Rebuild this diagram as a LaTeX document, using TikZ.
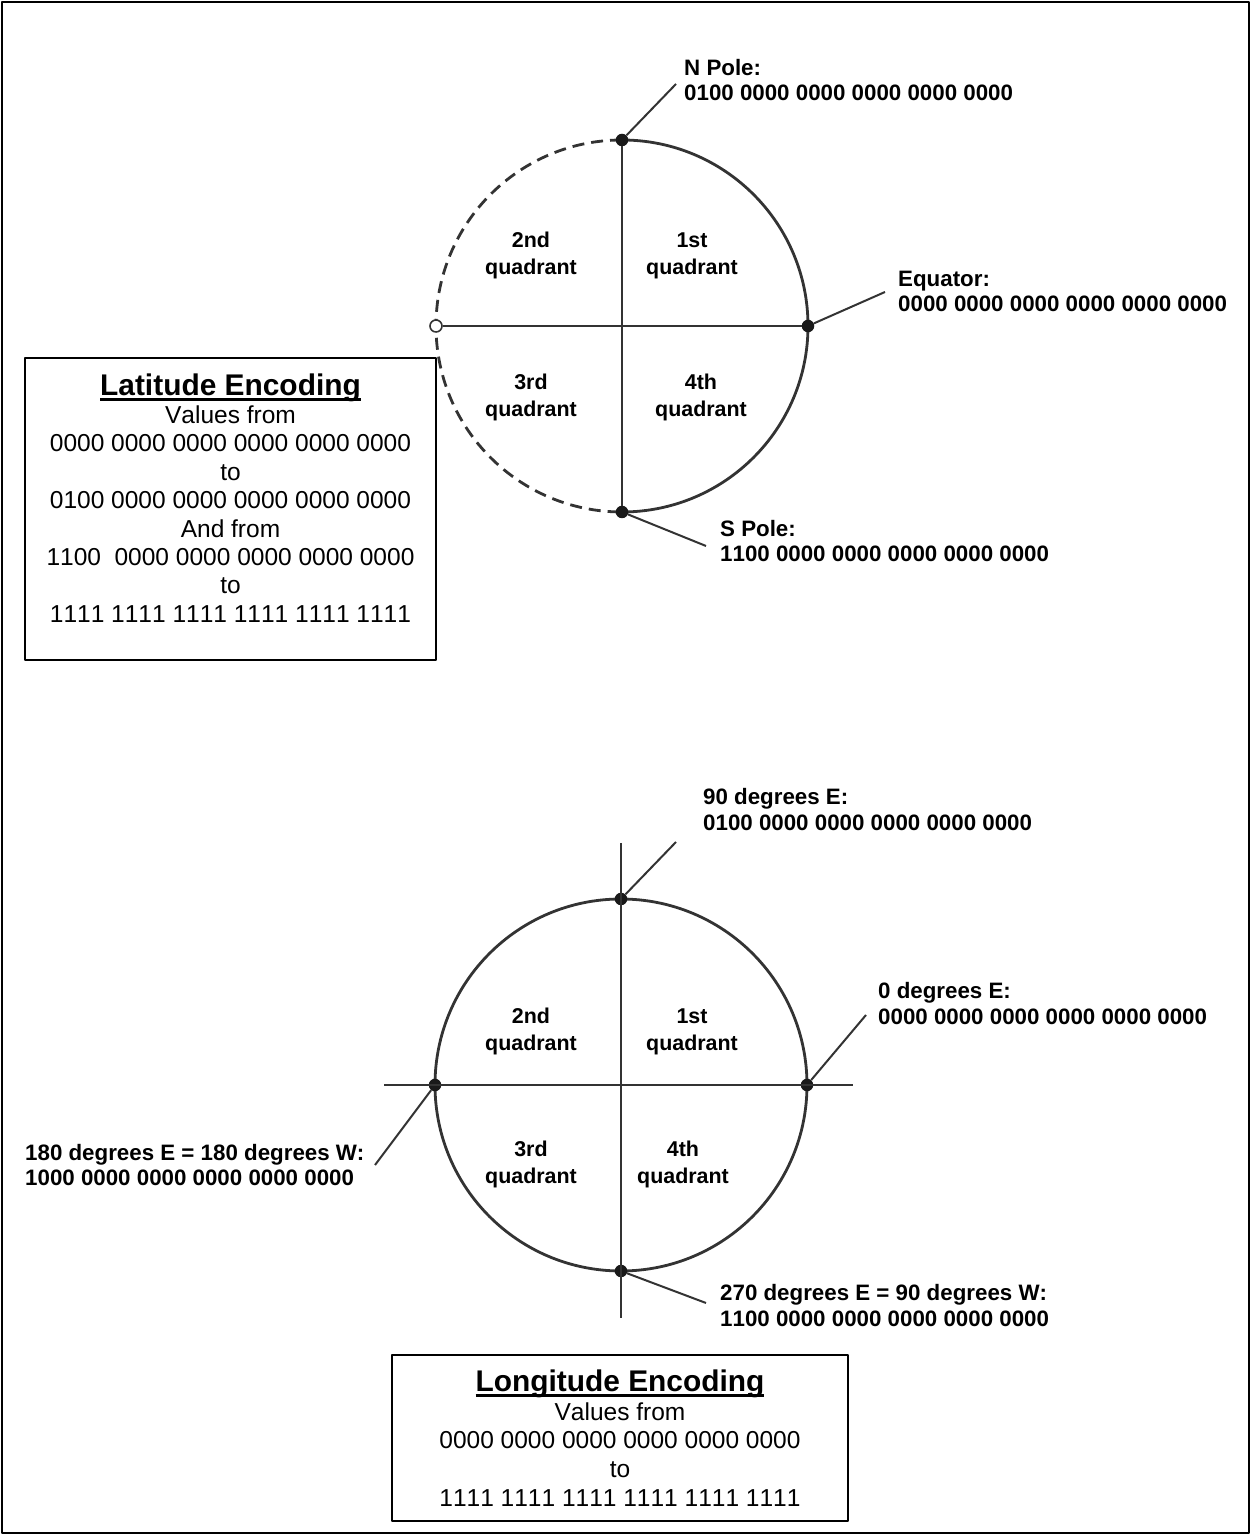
\documentclass[tikz,border=0pt]{standalone}
\usepackage{fontspec}
\setmainfont[Kerning=Off]{Liberation Sans}
\usetikzlibrary{positioning}
\tikzset{
  ptdot/.style={circle,fill=black!90,inner sep=0pt,minimum size=12.5bp},
  opendot/.style={circle,draw=black!80,fill=white,line width=1.6bp,inner sep=0pt,minimum size=12bp},
  rim/.style={line width=2.8bp,black!80},
  axis/.style={line width=2.8bp,black!80},
  leader/.style={line width=2bp,black!80},
  lbl/.style={inner sep=0pt,anchor=west,align=left,font=\bfseries\fontsize{22.4}{25.5}\selectfont},
  quad/.style={inner sep=0pt,align=center,font=\bfseries\fontsize{21.5}{27}\selectfont},
  encbox/.style={draw,line width=1.4bp,inner sep=0pt},
  enctext/.style={inner sep=0pt,align=center,font=\fontsize{24.6}{28.5}\selectfont},
}
\newcommand{\enctitle}[1]{{\fontsize{30}{33}\selectfont\bfseries\setbox0=\hbox{#1}\copy0\llap{\rule[-5.5pt]{\wd0}{2.8pt}}}}
\begin{document}
\begin{tikzpicture}[>=latex,line join=bevel,]
\useasboundingbox (0bp,0bp) rectangle (1251bp,1535bp);
\draw [line width=1.5bp] (2bp,2bp) rectangle (1249bp,1533bp);
%% latitude
\coordinate (lat_c) at (622bp,1209bp);
\draw [rim] (lat_c) ++(90:186bp) arc (90:-90:186bp);
\draw [rim,dash pattern=on 12bp off 7bp] (lat_c) ++(90:186bp) arc (90:270:186bp);
  \node (lat_n) at (622bp,1395bp) [ptdot] {};
  \node (lat_s) at (622bp,1023bp) [ptdot] {};
  \node (lat_e) at (808bp,1209bp) [ptdot] {};
  \node (lat_w) at (436bp,1209bp) [opendot] {};
  \draw [axis] (lat_n) -- (lat_s);
  \draw [axis] (lat_w) -- (lat_e);
  \coordinate (lat_n_tip) at (676bp,1451bp);
  \coordinate (lat_e_tip) at (885bp,1243bp);
  \coordinate (lat_s_tip) at (706bp,989bp);
  \draw [leader] (lat_n) -- (lat_n_tip);
  \draw [leader] (lat_e) -- (lat_e_tip);
  \draw [leader] (lat_s) -- (lat_s_tip);
  \node (lat_n_lbl) at (684bp,1455bp) [lbl] {N Pole:\\0100 0000 0000 0000 0000 0000};
  \node (lat_e_lbl) at (898bp,1243.5bp) [lbl] {Equator:\\0000 0000 0000 0000 0000 0000};
  \node (lat_s_lbl) at (720bp,994bp) [lbl] {S Pole:\\1100 0000 0000 0000 0000 0000};
  \node (lat_q1) at (692bp,1279.5bp) [quad] {1st\\quadrant};
  \node (lat_q2) at (531bp,1279.5bp) [quad] {2nd\\quadrant};
  \node (lat_q3) at (531bp,1137.5bp) [quad] {3rd\\quadrant};
  \node (lat_q4) at (701bp,1137.5bp) [quad] {4th\\quadrant};
  \node (lat_box) at (230.5bp,1026bp) [encbox,minimum width=411bp,minimum height=302bp] {};
  \node (lat_txt) [enctext,below=16bp of lat_box.north] {\enctitle{Latitude Encoding}\\Values from\\0000 0000 0000 0000 0000 0000\\to\\0100 0000 0000 0000 0000 0000\\And from\\1100~ 0000 0000 0000 0000 0000\\to\\1111 1111 1111 1111 1111 1111};
%% longitude
\coordinate (lon_c) at (621bp,450bp);
\draw [rim] (lon_c) circle (186bp);
  \node (lon_n) at (621bp,636bp) [ptdot] {};
  \node (lon_s) at (621bp,264bp) [ptdot] {};
  \node (lon_e) at (807bp,450bp) [ptdot] {};
  \node (lon_w) at (435bp,450bp) [ptdot] {};
  \coordinate (lon_top) at (621bp,692bp);
  \coordinate (lon_bot) at (621bp,217bp);
  \coordinate (lon_lft) at (384bp,450bp);
  \coordinate (lon_rgt) at (853bp,450bp);
  \draw [axis] (lon_top) -- (lon_bot);
  \draw [axis] (lon_lft) -- (lon_rgt);
  \coordinate (lon_n_tip) at (676bp,693bp);
  \coordinate (lon_e_tip) at (866bp,520bp);
  \coordinate (lon_w_tip) at (375bp,370bp);
  \coordinate (lon_s_tip) at (706bp,232bp);
  \draw [leader] (lon_n) -- (lon_n_tip);
  \draw [leader] (lon_e) -- (lon_e_tip);
  \draw [leader] (lon_w) -- (lon_w_tip);
  \draw [leader] (lon_s) -- (lon_s_tip);
  \node (lon_n_lbl) at (703bp,725.5bp) [lbl] {90 degrees E:\\0100 0000 0000 0000 0000 0000};
  \node (lon_e_lbl) at (878bp,531.5bp) [lbl] {0 degrees E:\\0000 0000 0000 0000 0000 0000};
  \node (lon_w_lbl) at (25bp,370bp) [lbl] {180 degrees E = 180 degrees W:\\1000 0000 0000 0000 0000 0000};
  \node (lon_s_lbl) at (720bp,229.5bp) [lbl] {270 degrees E = 90 degrees W:\\1100 0000 0000 0000 0000 0000};
  \node (lon_q1) at (692bp,503.5bp) [quad] {1st\\quadrant};
  \node (lon_q2) at (531bp,503.5bp) [quad] {2nd\\quadrant};
  \node (lon_q3) at (531bp,370.5bp) [quad] {3rd\\quadrant};
  \node (lon_q4) at (683bp,370.5bp) [quad] {4th\\quadrant};
  \node (lon_box) at (620bp,97bp) [encbox,minimum width=456bp,minimum height=166bp] {};
  \node (lon_txt) [enctext,font=\fontsize{24.6}{29}\selectfont,below=15bp of lon_box.north] {\enctitle{Longitude Encoding}\\Values from\\0000 0000 0000 0000 0000 0000\\to\\1111 1111 1111 1111 1111 1111};
%
\end{tikzpicture}
\end{document}
